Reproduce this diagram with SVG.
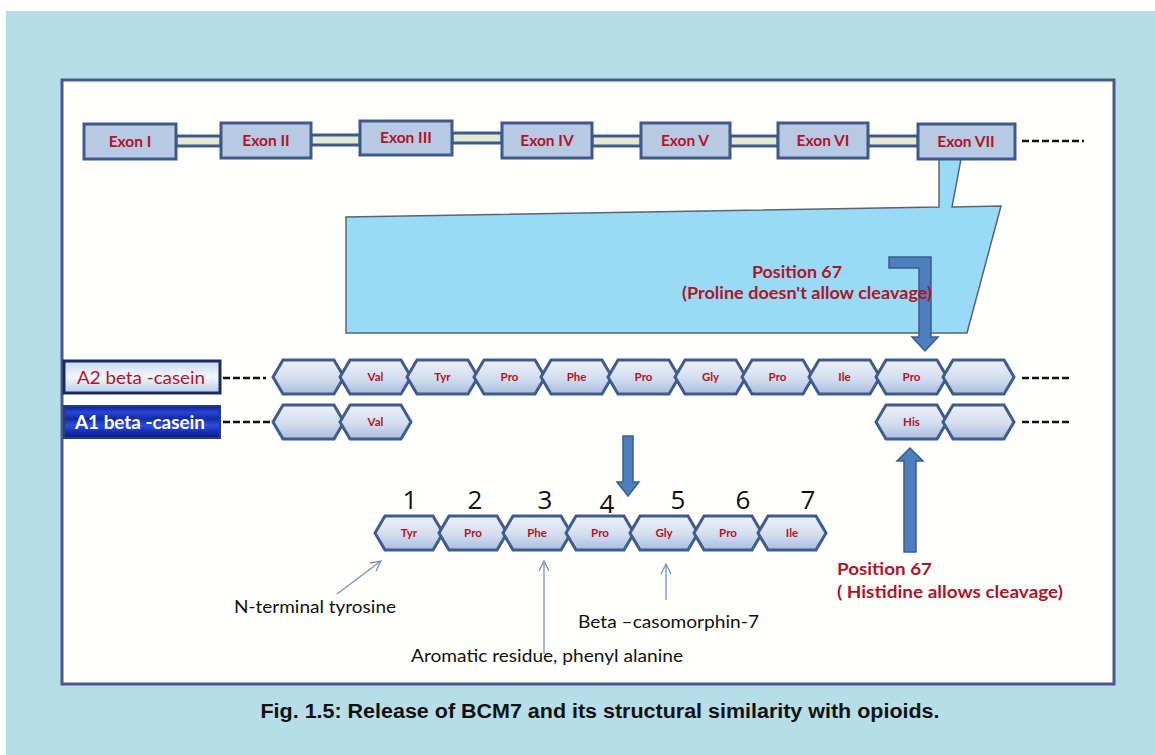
<svg xmlns="http://www.w3.org/2000/svg" xmlns:xlink="http://www.w3.org/1999/xlink" width="1155" height="755" viewBox="0 0 1155 755">
  <defs>
    <style>
      .exon { fill: #B8C9E3; stroke: #3F5A88; stroke-width: 3; }
      .link { fill: #E4E9D6; stroke: #3F5A88; stroke-width: 3; }
      .exon-t { font-family: Lato, "Open Sans", sans-serif; font-weight: bold; font-size: 15.5px; fill: #B01428; text-anchor: middle; }
      .hex { fill: url(#hexGrad); stroke: #3E5D8C; stroke-width: 3; stroke-linejoin: miter; }
      .aa { font-family: Lato, "Open Sans", sans-serif; font-weight: bold; font-size: 11.5px; fill: #B01428; text-anchor: middle; }
      .num { font-family: "Open Sans", Lato, sans-serif; font-size: 26px; fill: #111; text-anchor: middle; }
      .red { font-family: Lato, "Open Sans", sans-serif; font-weight: bold; font-size: 17px; fill: #B01428; }
      .note { font-family: Lato, "Open Sans", sans-serif; font-size: 17px; fill: #111; }
      .fat { fill: #4E7EBD; stroke: #385D91; stroke-width: 1.5; }
      .thin { stroke: #7393C2; stroke-width: 1.3; fill: none; marker-end: url(#open); }
      .dash { stroke: #111; stroke-width: 2.5; stroke-dasharray: 7 3; }
    </style>
    <linearGradient id="hexGrad" x1="0" y1="0" x2="0" y2="1">
      <stop offset="0" stop-color="#EEF2FA"/>
      <stop offset="0.55" stop-color="#D3DDEF"/>
      <stop offset="1" stop-color="#A9BDDF"/>
    </linearGradient>
    <linearGradient id="a2Grad" x1="0" y1="0" x2="0" y2="1">
      <stop offset="0" stop-color="#C9D9F1"/>
      <stop offset="0.5" stop-color="#F4F7FC"/>
      <stop offset="1" stop-color="#B7CBEA"/>
    </linearGradient>
    <linearGradient id="a1Grad" x1="0" y1="0" x2="0" y2="1">
      <stop offset="0" stop-color="#0C1E9A"/>
      <stop offset="0.2" stop-color="#2845D8"/>
      <stop offset="0.4" stop-color="#14299F"/>
      <stop offset="0.6" stop-color="#2D4CE2"/>
      <stop offset="0.8" stop-color="#1631B4"/>
      <stop offset="1" stop-color="#0A1A88"/>
    </linearGradient>
    <polygon id="hex" class="hex" points="0,17 10,0 61,0 71,17 61,34 10,34"/>
    <polygon id="hexS" class="hex" points="0,17 10,0 58,0 68,17 58,34 10,34"/>
    <marker id="open" viewBox="0 0 12 12" refX="11" refY="6" markerWidth="12" markerHeight="12" markerUnits="userSpaceOnUse" orient="auto">
      <polyline points="1,1 11,6 1,11" fill="none" stroke="#7393C2" stroke-width="1.3"/>
    </marker>
  </defs>

  <!-- page background and framed panel -->
  <rect x="0" y="0" width="1155" height="755" fill="#FFFFFF"/>
  <rect x="6" y="11" width="1149" height="744" fill="#B7DDE8"/>
  <rect x="62" y="80" width="1052" height="604" fill="#FFFFFE" stroke="#4A5A86" stroke-width="3"/>

  <!-- funnel from exon VII down to the sequence -->
  <polygon id="funnel" points="939,159 961,159 952,207 1001,206 967,333 346,333 346,217 939,207" fill="#99DAF6" stroke="#596470" stroke-width="1.5"/>

  <!-- connectors -->
  <g id="connectors">
    <rect class="link" x="176" y="136" width="45" height="10"/>
    <rect class="link" x="311" y="135" width="49" height="10"/>
    <rect class="link" x="452" y="133" width="50" height="10"/>
    <rect class="link" x="592" y="136" width="49" height="10"/>
    <rect class="link" x="730" y="136" width="48" height="10"/>
    <rect class="link" x="868" y="136" width="50" height="10"/>
    <line class="dash" x1="1022" y1="141" x2="1084" y2="141"/>
    <line class="dash" x1="223" y1="378" x2="266" y2="378"/>
    <line class="dash" x1="223" y1="422" x2="270" y2="422"/>
    <line class="dash" x1="1022" y1="378" x2="1072" y2="378"/>
    <line class="dash" x1="1022" y1="422" x2="1072" y2="422"/>
    <!-- bent arrow to proline 67 -->
    <path class="fat" d="M889,257 H931 V337 H938 L925,351 L912,337 H919 V268 H889 Z"/>
    <!-- cleavage arrow -->
    <path class="fat" d="M623,436 H633 V482 H639 L628,496 L617,482 H623 Z"/>
    <!-- arrow to histidine 67 -->
    <path class="fat" d="M904,552 H916 V461 H923 L910,448 L897,461 H904 Z"/>
    <!-- annotation pointers -->
    <line class="thin" x1="337" y1="594" x2="381" y2="561"/>
    <line class="thin" x1="544" y1="654" x2="544" y2="561"/>
    <line class="thin" x1="666" y1="600" x2="666" y2="564"/>
  </g>

  <!-- exons -->
  <g id="exon-1"><rect class="exon" x="84" y="124" width="92" height="35"/><text class="exon-t" x="130" y="147">Exon I</text></g>
  <g id="exon-2"><rect class="exon" x="221" y="123" width="90" height="35"/><text class="exon-t" x="266" y="146">Exon II</text></g>
  <g id="exon-3"><rect class="exon" x="360" y="121" width="92" height="34"/><text class="exon-t" x="406" y="143">Exon III</text></g>
  <g id="exon-4"><rect class="exon" x="502" y="123" width="90" height="35"/><text class="exon-t" x="547" y="146">Exon IV</text></g>
  <g id="exon-5"><rect class="exon" x="641" y="123" width="89" height="35"/><text class="exon-t" x="685" y="146">Exon V</text></g>
  <g id="exon-6"><rect class="exon" x="778" y="123" width="90" height="35"/><text class="exon-t" x="823" y="146">Exon VI</text></g>
  <g id="exon-7"><rect class="exon" x="918" y="124" width="97" height="35"/><text class="exon-t" x="966" y="147">Exon VII</text></g>

  <!-- variant labels -->
  <g id="label-a2">
    <rect x="64" y="361" width="156" height="32" fill="url(#a2Grad)" stroke="#1B2A66" stroke-width="3"/>
    <text x="141" y="384" font-family="Lato, 'Open Sans', sans-serif" font-size="18" fill="#B01428" text-anchor="middle" textLength="128" lengthAdjust="spacingAndGlyphs">A2 beta -casein</text>
  </g>
  <g id="label-a1">
    <rect x="64" y="406" width="156" height="32" fill="url(#a1Grad)" stroke="#2B3C7A" stroke-width="2"/>
    <text x="140" y="429" font-family="Lato, 'Open Sans', sans-serif" font-weight="bold" font-size="18" fill="#FFFFFF" text-anchor="middle" textLength="130" lengthAdjust="spacingAndGlyphs">A1 beta -casein</text>
  </g>

  <!-- A2 beta-casein residues -->
  <g id="a2-row">
    <use href="#hex" x="273" y="360"/>
    <use href="#hex" x="340" y="360"/><text class="aa" x="375.5" y="381">Val</text>
    <use href="#hex" x="407" y="360"/><text class="aa" x="442.5" y="381">Tyr</text>
    <use href="#hex" x="474" y="360"/><text class="aa" x="509.5" y="381">Pro</text>
    <use href="#hex" x="541" y="360"/><text class="aa" x="576.5" y="381">Phe</text>
    <use href="#hex" x="608" y="360"/><text class="aa" x="643.5" y="381">Pro</text>
    <use href="#hex" x="675" y="360"/><text class="aa" x="710.5" y="381">Gly</text>
    <use href="#hex" x="742" y="360"/><text class="aa" x="777.5" y="381">Pro</text>
    <use href="#hex" x="809" y="360"/><text class="aa" x="844.5" y="381">Ile</text>
    <use href="#hex" x="876" y="360"/><text class="aa" x="911.5" y="381">Pro</text>
    <use href="#hex" x="943" y="360"/>
  </g>

  <!-- A1 beta-casein residues -->
  <g id="a1-row">
    <use href="#hex" x="273" y="405"/>
    <use href="#hex" x="340" y="405"/><text class="aa" x="375.5" y="426">Val</text>
    <use href="#hex" x="876" y="405"/><text class="aa" x="911.5" y="426">His</text>
    <use href="#hex" x="943" y="405"/>
  </g>

  <!-- beta-casomorphin-7 -->
  <g id="bcm7">
    <text class="num" x="410" y="509">1</text>
    <text class="num" x="475" y="509">2</text>
    <text class="num" x="545" y="509">3</text>
    <text class="num" x="607" y="513">4</text>
    <text class="num" x="678" y="509">5</text>
    <text class="num" x="743" y="509">6</text>
    <text class="num" x="808" y="509">7</text>
    <use href="#hexS" x="375" y="516"/><text class="aa" x="409" y="537">Tyr</text>
    <use href="#hexS" x="439" y="516"/><text class="aa" x="473" y="537">Pro</text>
    <use href="#hexS" x="503" y="516"/><text class="aa" x="537" y="537">Phe</text>
    <use href="#hexS" x="566" y="516"/><text class="aa" x="600" y="537">Pro</text>
    <use href="#hexS" x="630" y="516"/><text class="aa" x="664" y="537">Gly</text>
    <use href="#hexS" x="694" y="516"/><text class="aa" x="728" y="537">Pro</text>
    <use href="#hexS" x="758" y="516"/><text class="aa" x="792" y="537">Ile</text>
  </g>

  <!-- notes -->
  <g id="notes">
    <text class="red" x="752" y="278" textLength="90" lengthAdjust="spacingAndGlyphs">Position 67</text>
    <text class="red" x="682" y="299" textLength="250" lengthAdjust="spacingAndGlyphs">(Proline  doesn't allow  cleavage)</text>
    <text class="red" x="837" y="575" textLength="95" lengthAdjust="spacingAndGlyphs">Position 67</text>
    <text class="red" x="837" y="598" textLength="226" lengthAdjust="spacingAndGlyphs">( Histidine allows  cleavage)</text>
    <text class="note" x="234" y="613" textLength="162" lengthAdjust="spacingAndGlyphs">N-terminal tyrosine</text>
    <text class="note" x="578" y="628" textLength="181" lengthAdjust="spacingAndGlyphs">Beta –casomorphin-7</text>
    <text class="note" x="411" y="662" textLength="272" lengthAdjust="spacingAndGlyphs">Aromatic residue, phenyl alanine</text>
  </g>

  <text x="600" y="718" font-family="'Liberation Sans', Arial, sans-serif" font-weight="bold" font-size="20" fill="#111" text-anchor="middle" textLength="679" lengthAdjust="spacingAndGlyphs">Fig. 1.5: Release of BCM7 and its structural similarity with opioids.</text>
</svg>
